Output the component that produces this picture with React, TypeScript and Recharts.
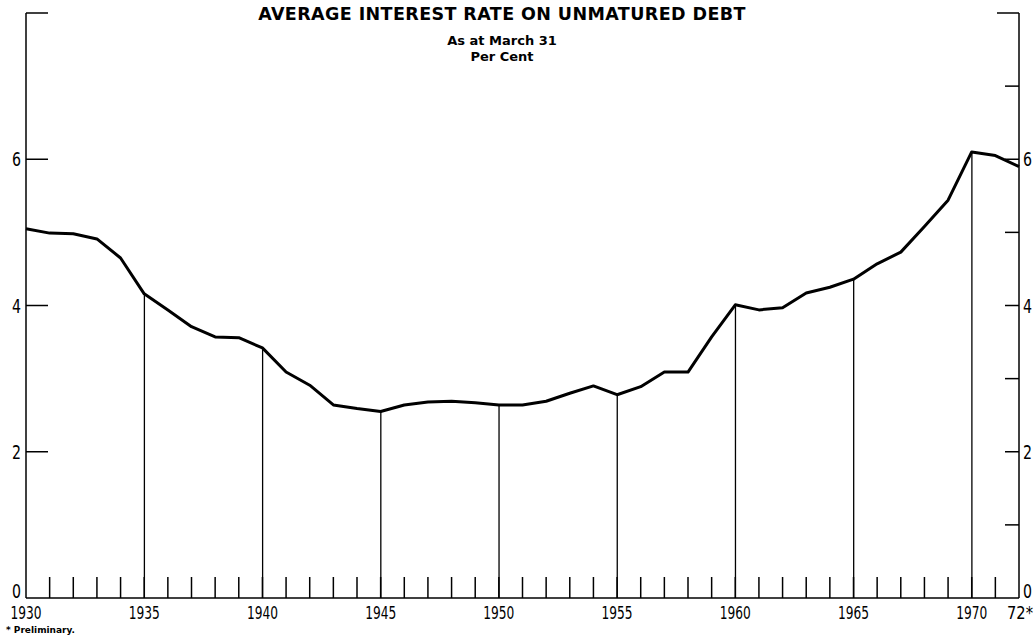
import { ComposedChart, Line, Bar, XAxis, YAxis } from "recharts";

// average interest rate on unmatured debt, as at March 31 (per cent)
const years = [
  1930, 1931, 1932, 1933, 1934, 1935, 1936, 1937, 1938, 1939,
  1940, 1941, 1942, 1943, 1944, 1945, 1946, 1947, 1948, 1949,
  1950, 1951, 1952, 1953, 1954, 1955, 1956, 1957, 1958, 1959,
  1960, 1961, 1962, 1963, 1964, 1965, 1966, 1967, 1968, 1969,
  1970, 1971, 1972,
];
const rates = [
  5.05, 4.99, 4.98, 4.91, 4.65, 4.16, 3.94, 3.71, 3.57, 3.56,
  3.42, 3.09, 2.91, 2.64, 2.59, 2.55, 2.64, 2.68, 2.69, 2.67,
  2.64, 2.64, 2.69, 2.8, 2.9, 2.78, 2.89, 3.09, 3.09, 3.57,
  4.01, 3.94, 3.97, 4.17, 4.25, 4.36, 4.57, 4.73, 5.08, 5.44,
  6.1, 6.05, 5.9,
];
const dropYears = [1935, 1940, 1945, 1950, 1955, 1960, 1965, 1970];
const labelYears = [1930, 1935, 1940, 1945, 1950, 1955, 1960, 1965, 1970, 1972];
const leftTicks = [0, 2, 4, 6, 8];
const rightTicks = [0, 1, 2, 3, 4, 5, 6, 7, 8];

const data = years.map((year, i) => ({
  year,
  rate: rates[i],
  drop: dropYears.includes(year) ? rates[i] : null,
}));

const FONT = '"Liberation Sans Narrow", "DejaVu Sans Condensed", sans-serif';
const TITLE_FONT = '"DejaVu Sans", sans-serif';

const yearLabel = (y: number) => (y === 1972 ? "72*" : String(y));

const YearTick = ({ x, y, payload }: any) => {
  const yr = payload.value as number;
  const showLabel = labelYears.includes(yr);
  const last = yr === 1972;
  return (
    <g>
      {yr !== 1930 && !last && (
        <line x1={x} x2={x} y1={y} y2={y - 21} stroke="#000" strokeWidth={1.5} />
      )}
      {showLabel && (
        <text
          x={last ? x - 12 : x}
          y={y + 21}
          textAnchor={last ? "start" : "middle"}
          fontFamily={FONT}
          fontSize={17}
          textLength={last ? 26 : 31}
          lengthAdjust="spacingAndGlyphs"
          fill="#000"
        >
          {yearLabel(yr)}
        </text>
      )}
    </g>
  );
};

const LeftTick = ({ x, y, payload }: any) => {
  const v = payload.value as number;
  return (
    <g>
      {v !== 0 && <line x1={x} x2={x + 22} y1={y} y2={y} stroke="#000" strokeWidth={1.5} />}
      {v !== 8 && (
        <text
          x={x - 5}
          y={v === 0 ? y : y + 7}
          textAnchor="end"
          fontFamily={FONT}
          fontSize={19}
          textLength={9}
          lengthAdjust="spacingAndGlyphs"
          fill="#000"
        >
          {v}
        </text>
      )}
    </g>
  );
};

const RightTick = ({ x, y, payload }: any) => {
  const v = payload.value as number;
  return (
    <g>
      {v !== 0 && (
        <line x1={x - (v === 8 ? 22 : 14)} x2={x} y1={y} y2={y} stroke="#000" strokeWidth={1.5} />
      )}
      {v % 2 === 0 && v !== 8 && (
        <text
          x={x + 4}
          y={v === 0 ? y : y + 7}
          textAnchor="start"
          fontFamily={FONT}
          fontSize={19}
          textLength={9}
          lengthAdjust="spacingAndGlyphs"
          fill="#000"
        >
          {v}
        </text>
      )}
    </g>
  );
};

const DropLine = ({ x, y, width, height }: any) => {
  if (height == null || !isFinite(height) || height <= 0) return null;
  const cx = x + width / 2;
  return <line x1={cx} x2={cx} y1={y} y2={y + height} stroke="#000" strokeWidth={1.3} />;
};

export default function App() {
  return (
    <div style={{ position: "relative", width: 1034, height: 638, background: "#fff" }}>
      <style>{"body{margin:0}"}</style>
      <ComposedChart
        width={1034}
        height={638}
        data={data}
        margin={{ top: 13, right: 0, bottom: 0, left: 0 }}
      >
        <XAxis
          dataKey="year"
          type="number"
          domain={[1930, 1972]}
          ticks={years}
          interval={0}
          height={40}
          tickSize={0}
          tickMargin={0}
          tickLine={false}
          axisLine={{ stroke: "#000", strokeWidth: 1.5 }}
          tick={<YearTick />}
        />
        <YAxis
          yAxisId="left"
          orientation="left"
          domain={[0, 8]}
          ticks={leftTicks}
          width={26}
          tickSize={0}
          tickMargin={0}
          tickLine={false}
          axisLine={{ stroke: "#000", strokeWidth: 1.5 }}
          tick={<LeftTick />}
        />
        <YAxis
          yAxisId="right"
          orientation="right"
          domain={[0, 8]}
          ticks={rightTicks}
          width={15}
          tickSize={0}
          tickMargin={0}
          tickLine={false}
          axisLine={{ stroke: "#000", strokeWidth: 1.5 }}
          tick={<RightTick />}
        />
        <Bar
          yAxisId="left"
          dataKey="drop"
          barSize={2}
          shape={<DropLine />}
          isAnimationActive={false}
        />
        <Line
          yAxisId="right"
          dataKey="rate"
          type="linear"
          stroke="#000"
          strokeWidth={3}
          strokeLinejoin="round"
          dot={false}
          activeDot={false}
          isAnimationActive={false}
        />
      </ComposedChart>
      <div
        style={{
          position: "absolute",
          top: 6,
          left: 0,
          width: 1004,
          textAlign: "center",
          fontFamily: TITLE_FONT,
          fontWeight: "bold",
          color: "#000",
          lineHeight: 1,
        }}
      >
        <div style={{ fontSize: 17.5, letterSpacing: 0.4 }}>AVERAGE INTEREST RATE ON UNMATURED DEBT</div>
        <div style={{ fontSize: 13, marginTop: 10 }}>As at March 31</div>
        <div style={{ fontSize: 13, marginTop: 3 }}>Per Cent</div>
      </div>
      <div
        style={{
          position: "absolute",
          top: 625,
          left: 6,
          fontFamily: TITLE_FONT,
          fontWeight: "bold",
          fontSize: 9,
          color: "#000",
        }}
      >
        * Preliminary.
      </div>
    </div>
  );
}
